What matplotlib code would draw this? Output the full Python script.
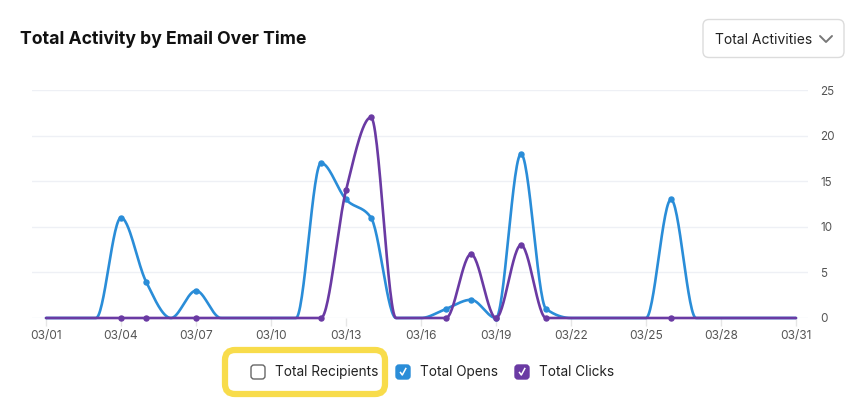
import matplotlib
matplotlib.use("Agg")
import matplotlib.pyplot as plt
from matplotlib.patches import FancyBboxPatch
import numpy as np

plt.rcParams['font.family'] = ['Inter', 'DejaVu Sans']

# Data (March, one value per day)
days = list(range(1, 32))
date_labels = ["03/%02d" % d for d in range(1, 32, 3)]
opens = [0, 0, 0, 11, 4, 0, 3, 0, 0, 0, 0, 17, 13, 11, 0, 0, 1, 2, 0, 18,
         1, 0, 0, 0, 0, 13, 0, 0, 0, 0, 0]
clicks = [0, 0, 0, 0, 0, 0, 0, 0, 0, 0, 0, 0, 14, 22, 0, 0, 0, 7, 0, 8,
          0, 0, 0, 0, 0, 0, 0, 0, 0, 0, 0]
# days that had sends (dots are drawn on these)
send_days = [4, 5, 7, 12, 13, 14, 17, 18, 19, 20, 21, 26]

blue = "#2a8dd8"
purple = "#6a3aa3"


def monotone_x(x, y, n=30):
    # same smoothing as d3.curveMonotoneX
    x = np.asarray(x, float)
    y = np.asarray(y, float)
    h = np.diff(x)
    s = np.diff(y) / h
    t = np.zeros(len(x))
    for i in range(1, len(x) - 1):
        p = (s[i - 1] * h[i] + s[i] * h[i - 1]) / (h[i - 1] + h[i])
        t[i] = (np.sign(s[i - 1]) + np.sign(s[i])) * min(abs(s[i - 1]), abs(s[i]), 0.5 * abs(p))
    t[0] = (3 * s[0] - t[1]) / 2
    t[-1] = (3 * s[-1] - t[-2]) / 2
    xs, ys = [], []
    for i in range(len(x) - 1):
        u = np.linspace(0, 1, n, endpoint=False)
        h00 = 2 * u**3 - 3 * u**2 + 1
        h10 = u**3 - 2 * u**2 + u
        h01 = -2 * u**3 + 3 * u**2
        h11 = u**3 - u**2
        xs.append(x[i] + u * h[i])
        ys.append(h00 * y[i] + h10 * h[i] * t[i] + h01 * y[i + 1] + h11 * h[i] * t[i + 1])
    xs.append([x[-1]])
    ys.append([y[-1]])
    return np.concatenate(xs), np.concatenate(ys)


fig = plt.figure(figsize=(8.64, 3.99), dpi=100)
W, H = 864, 399
ax = fig.add_axes([32 / W, (H - 318) / H, 776 / W, 228 / H])

for vals, col, z in [(opens, blue, 3), (clicks, purple, 4)]:
    sx, sy = monotone_x(days, vals)
    ax.plot(sx, sy, color=col, lw=1.9, zorder=z, clip_on=False, solid_capstyle='round')
    mx = [d for d in send_days]
    my = [vals[d - 1] for d in send_days]
    ax.plot(mx, my, 'o', color=col, ms=3.6, zorder=z + 0.5, clip_on=False)

ax.set_xlim(0.44, 31.48)
ax.set_ylim(0, 25)
ax.set_yticks([0, 5, 10, 15, 20, 25])
ax.set_xticks(range(1, 32, 3))
ax.set_xticklabels(date_labels)
ax.yaxis.tick_right()
ax.grid(axis='y', color='#eef0f5', lw=1)
ax.set_axisbelow(True)
for sp in ax.spines.values():
    sp.set_visible(False)
ax.tick_params(axis='y', length=0, pad=9, labelsize=8.4, labelcolor='#555555')
ax.tick_params(axis='x', length=6, width=1, color='#e6e6e6', pad=3, labelsize=8.6, labelcolor='#555555')

# overlay in pixel coordinates for title, dropdown and legend
ov = fig.add_axes([0, 0, 1, 1])
ov.set_xlim(0, W)
ov.set_ylim(H, 0)
ov.axis('off')

ov.text(20, 39, "Total Activity by Email Over Time", fontsize=12.7, fontweight='bold',
        color='#111111', va='center', ha='left')

ov.add_patch(FancyBboxPatch((703, 19.5), 141, 38, boxstyle="round,pad=0,rounding_size=6",
                            fc='white', ec='#dcdcdc', lw=1))
ov.text(715, 39.5, "Total Activities", fontsize=10, color='#222222', va='center', ha='left')
ov.plot([820, 826, 832], [36, 42, 36], color='#777777', lw=1.4, solid_capstyle='round')

# legend
ov.add_patch(FancyBboxPatch((225, 350), 160, 44, boxstyle="round,pad=0,rounding_size=10",
                            fc='none', ec='#f8dc4b', lw=4.5))
legend_items = [("Total Recipients", None, 251, 275),
                ("Total Opens", blue, 396, 420),
                ("Total Clicks", purple, 515, 539)]
for label, col, bx, tx in legend_items:
    if col is None:
        ov.add_patch(FancyBboxPatch((bx, 365), 14, 14, boxstyle="round,pad=0,rounding_size=3",
                                    fc='white', ec='#666666', lw=1))
    else:
        ov.add_patch(FancyBboxPatch((bx, 365), 14, 14, boxstyle="round,pad=0,rounding_size=3",
                                    fc=col, ec=col, lw=1))
        ov.plot([bx + 4.5, bx + 6.3, bx + 9.8], [372.5, 375, 368.5], color='white', lw=1.1)
    ov.text(tx, 372, label, fontsize=9.8, color='#222222', va='center', ha='left')

fig.savefig("out.png", dpi=100)
